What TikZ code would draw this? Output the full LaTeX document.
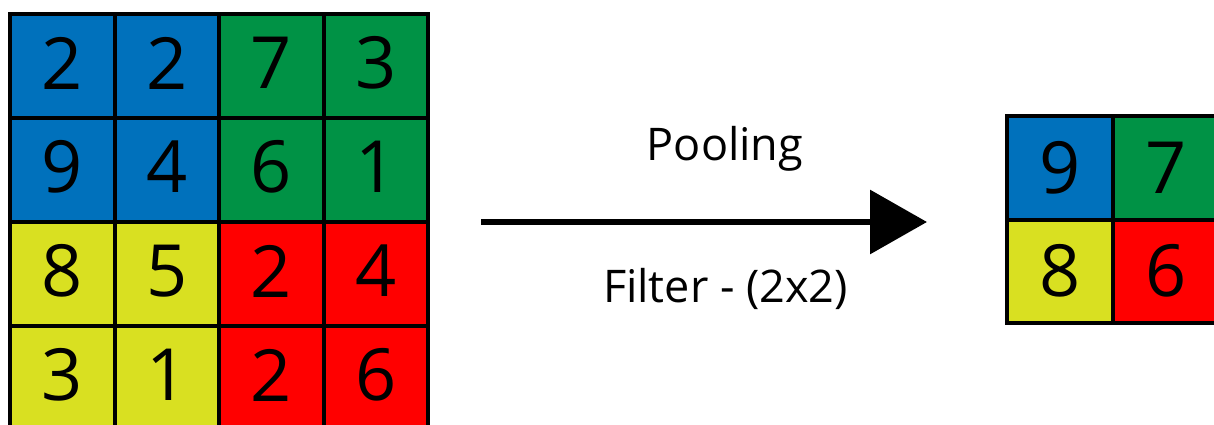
\documentclass[tikz,border=0pt]{standalone}
\usepackage{fontspec}
\setmainfont{Open Sans}
\usetikzlibrary{arrows.meta}
\definecolor{cblue}{HTML}{0071BC}
\definecolor{cgreen}{HTML}{009245}
\definecolor{cyellow}{HTML}{D9E021}
\definecolor{cred}{HTML}{FF0000}
\begin{document}
\begin{tikzpicture}[x=1pt,y=-1pt,
  cellL/.style={draw=black, line width=4pt, minimum width=104.5pt, minimum height=104pt, inner sep=0pt, outer sep=0pt},
  cellR/.style={draw=black, line width=4pt, minimum width=106pt, minimum height=103.5pt, inner sep=0pt, outer sep=0pt},
  digit/.style={inner sep=0pt, font=\fontsize{72}{72}\selectfont},
  caption/.style={inner sep=0pt, anchor=base, font=\fontsize{45}{45}\selectfont}]
\useasboundingbox (0,0) rectangle (1214,425);
\clip (0,0) rectangle (1214,425);
\fill[white] (0,0) rectangle (1214,425);
% left grid
\foreach \v/\c [count=\k from 0] in {2/cblue,2/cblue,7/cgreen,3/cgreen,
                                     9/cblue,4/cblue,6/cgreen,1/cgreen,
                                     8/cyellow,5/cyellow,2/cred,4/cred,
                                     3/cyellow,1/cyellow,2/cred,6/cred}{
  \pgfmathtruncatemacro{\i}{int(\k/4)}
  \pgfmathtruncatemacro{\j}{mod(\k,4)}
  \node[cellL, fill=\c] (L\i\j) at ({62.25+104.5*\j},{66+104*\i}) {};
  \node[digit] (LT\i\j) at ([yshift=3pt]L\i\j.center) {\v};
}
% right grid
\foreach \v/\c [count=\k from 0] in {9/cblue,7/cgreen,8/cyellow,6/cred}{
  \pgfmathtruncatemacro{\i}{int(\k/2)}
  \pgfmathtruncatemacro{\j}{mod(\k,2)}
  \node[cellR, fill=\c] (R\i\j) at ({1060+106*\j},{167.75+103.5*\i}) {};
  \node[digit] (RT\i\j) at (R\i\j.center) {\v};
}
% arrow
\coordinate (a) at (481,222);
\coordinate (b) at (927,222);
\draw[line width=6.5pt, -{Triangle[length=57pt,width=63pt]}] (a) -- (b);
\node[caption] (pool) at (725,160) {Pooling};
\node[caption] (filt) at (725.5,302) {Filter - (2x2)};
\end{tikzpicture}
\end{document}
